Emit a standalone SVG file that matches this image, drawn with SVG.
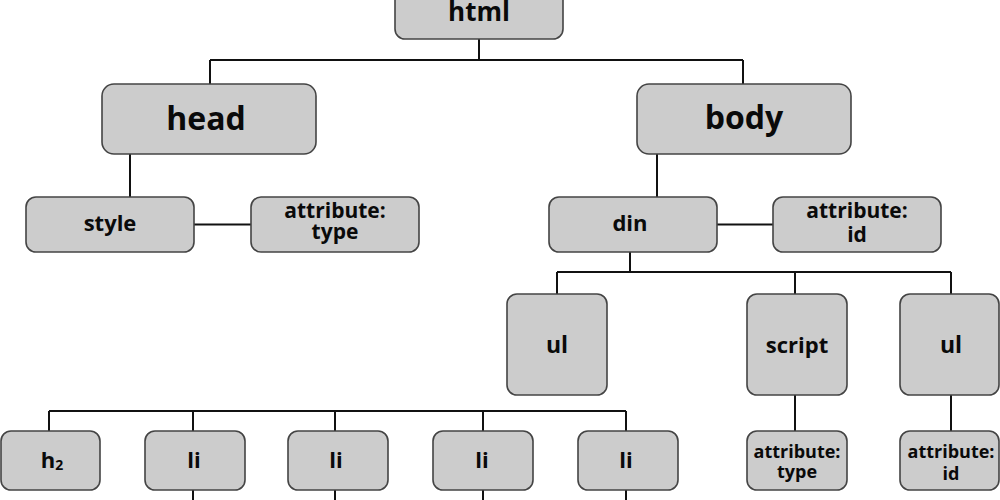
<svg xmlns="http://www.w3.org/2000/svg" width="1000" height="500" viewBox="0 0 1000 500">
<style>
.box{fill:#cccccc;stroke:#444444;stroke-width:1.6}
.t{font-family:"Open Sans","Noto Sans",sans-serif;font-weight:700;fill:#0a0a0a;text-anchor:middle}
.c{stroke:#111111;stroke-width:2;fill:none}
</style>
<rect width="1000" height="500" fill="#ffffff"/>
<g id="connectors">
<path class="c" d="M479 39V60M210 60H743M210 60V84M743 60V84"/>
<path class="c" d="M130 154V197M194 224.5H251"/>
<path class="c" d="M657 154V197M717 224.5H773"/>
<path class="c" d="M630 252V272M557 272H951M557 272V294M795 272V294M951 272V294"/>
<path class="c" d="M795 395V431M951 395V431"/>
<path class="c" d="M49 411H626M49 411V431M193 411V431M335 411V431M483 411V431M626 411V431"/>
<path class="c" d="M193 490V500M335 490V500M483 490V500M626 490V500"/>
</g>
<g id="html"><rect class="box" x="395" y="-12" width="168" height="51" rx="10"/><text class="t" x="479" y="21" font-size="26">html</text></g>
<g id="head"><rect class="box" x="102" y="84" width="214" height="70" rx="12"/><text class="t" x="206" y="130" font-size="32">head</text></g>
<g id="body"><rect class="box" x="637" y="84" width="214" height="70" rx="12"/><text class="t" x="744" y="129" font-size="32">body</text></g>
<g id="style"><rect class="box" x="26" y="197" width="168" height="55" rx="10"/><text class="t" x="110" y="231" font-size="22">style</text></g>
<g id="attr-type-1"><rect class="box" x="251" y="197" width="168" height="55" rx="10"/><text class="t" font-size="21"><tspan x="335" y="218">attribute:</tspan><tspan x="335" y="239">type</tspan></text></g>
<g id="din"><rect class="box" x="549" y="197" width="168" height="55" rx="10"/><text class="t" x="630" y="231" font-size="22">din</text></g>
<g id="attr-id-1"><rect class="box" x="773" y="197" width="168" height="55" rx="10"/><text class="t" font-size="21"><tspan x="857" y="218">attribute:</tspan><tspan x="857" y="242">id</tspan></text></g>
<g id="ul-1"><rect class="box" x="507" y="294" width="100" height="101" rx="10"/><text class="t" x="557" y="353" font-size="23">ul</text></g>
<g id="script"><rect class="box" x="747" y="294" width="100" height="101" rx="10"/><text class="t" x="797" y="353" font-size="22">script</text></g>
<g id="ul-2"><rect class="box" x="900" y="294" width="99" height="101" rx="10"/><text class="t" x="951" y="353" font-size="23">ul</text></g>
<g id="h2"><rect class="box" x="1" y="431" width="99" height="59" rx="10"/><text class="t" x="52" y="468" font-size="22">h<tspan font-size="14" dy="2">2</tspan></text></g>
<g id="li-1"><rect class="box" x="145" y="431" width="100" height="59" rx="10"/><text class="t" x="194" y="468" font-size="22">li</text></g>
<g id="li-2"><rect class="box" x="288" y="431" width="100" height="59" rx="10"/><text class="t" x="336" y="468" font-size="22">li</text></g>
<g id="li-3"><rect class="box" x="433" y="431" width="100" height="59" rx="10"/><text class="t" x="482" y="468" font-size="22">li</text></g>
<g id="li-4"><rect class="box" x="578" y="431" width="100" height="59" rx="10"/><text class="t" x="626" y="468" font-size="22">li</text></g>
<g id="attr-type-2"><rect class="box" x="747" y="431" width="100" height="59" rx="10"/><text class="t" font-size="18"><tspan x="797" y="458">attribute:</tspan><tspan x="797" y="478">type</tspan></text></g>
<g id="attr-id-2"><rect class="box" x="900" y="431" width="99" height="59" rx="10"/><text class="t" font-size="18"><tspan x="951" y="458">attribute:</tspan><tspan x="951" y="480">id</tspan></text></g>
</svg>
